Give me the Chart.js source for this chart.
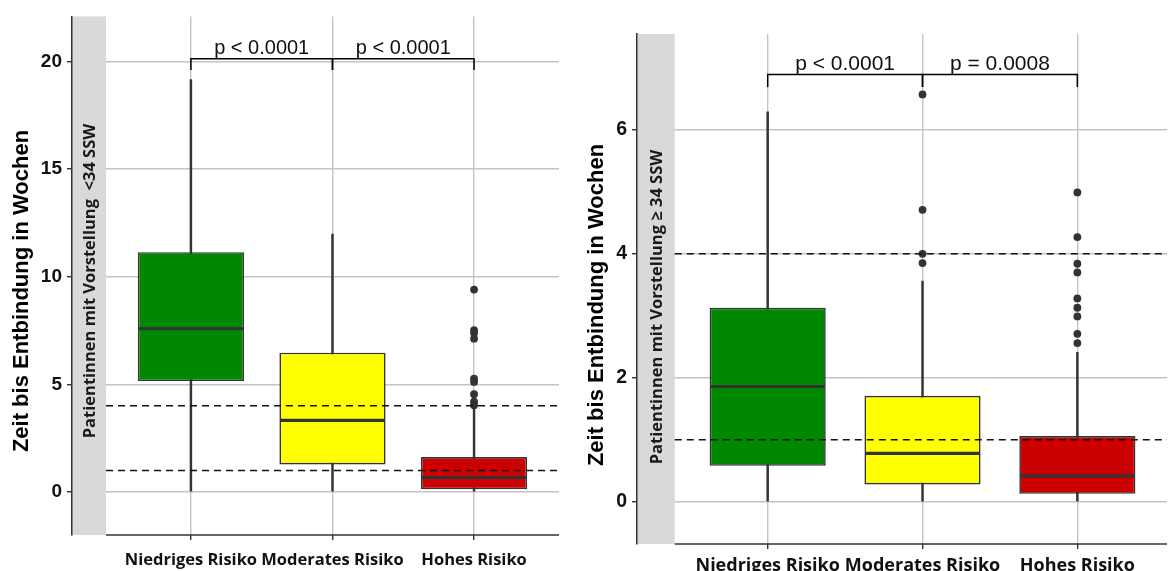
<!DOCTYPE html>
<html>
<head>
<meta charset="utf-8">
<script src="https://cdn.jsdelivr.net/npm/chart.js@4.4.0/dist/chart.umd.min.js"></script>
<style>
  html, body { margin: 0; padding: 0; background: #fff; }
  #wrap { position: relative; width: 1171px; height: 571px; overflow: hidden; }
  .panel { position: absolute; top: 0; }
</style>
</head>
<body>
<div id="wrap">
  <div class="panel" style="left:0px"><canvas id="chartA" width="590" height="571"></canvas></div>
  <div class="panel" style="left:583px"><canvas id="chartB" width="588" height="571"></canvas></div>
</div>
<script>
var categories = ["Niedriges Risiko", "Moderates Risiko", "Hohes Risiko"];
var boxColors = ["#008800", "#ffff00", "#cc0000"];

// Patientinnen mit Vorstellung <34 SSW
var lowA = [0, 0, 0];
var q1A = [5.15, 1.28, 0.12];
var medianA = [7.58, 3.32, 0.67];
var q3A = [11.14, 6.47, 1.62];
var highA = [19.15, 11.98, 3.98];
var outliersA = [[], [], [4.03, 4.19, 4.54, 5.11, 5.26, 7.12, 7.38, 7.52, 9.40]];
var yTicksA = [0, 5, 10, 15, 20];
var refLinesA = [1, 4];
var pValuesA = ["p < 0.0001", "p < 0.0001"];
var bracketA = [20.12, 19.6];

// Patientinnen mit Vorstellung >= 34 SSW
var lowB = [0, 0, 0];
var q1B = [0.58, 0.28, 0.13];
var medianB = [1.86, 0.78, 0.42];
var q3B = [3.13, 1.71, 1.06];
var highB = [6.29, 3.56, 2.41];
var outliersB = [[], [3.85, 4.0, 4.71, 6.57], [2.56, 2.71, 2.99, 3.13, 3.28, 3.70, 3.84, 4.27, 4.99]];
var yTicksB = [0, 2, 4, 6];
var refLinesB = [1, 4];
var pValuesB = ["p < 0.0001", "p = 0.0008"];
var bracketB = [6.89, 6.69];

var sansBold = "'Liberation Sans', Arial, sans-serif";
var labelFont = "'Open Sans', 'Noto Sans', sans-serif";

function buildPanel(canvasId, p) {
  var whiskers = categories.map(function (c, i) { return {x: i + 1, y: [p.low[i], p.high[i]]}; });
  var boxes = categories.map(function (c, i) { return {x: i + 1, y: [p.q1[i], p.q3[i]]}; });
  var points = [];
  p.outliers.forEach(function (list, i) {
    list.forEach(function (v) { points.push({x: i + 1, y: v}); });
  });

  var extras = {
    id: 'boxExtras',
    beforeDatasetsDraw: function (chart) {
      var ctx = chart.ctx, a = chart.chartArea, xs = chart.scales.x;
      var panelLeft = xs.getPixelForValue(p.panelStart);
      ctx.save();
      ctx.fillStyle = '#d9d9d9';
      ctx.fillRect(a.left + 1, a.top, panelLeft - a.left - 1, a.bottom - a.top);
      ctx.strokeStyle = '#333';
      ctx.lineWidth = 1.6;
      ctx.beginPath();
      ctx.moveTo(panelLeft, a.bottom);
      ctx.lineTo(a.right, a.bottom);
      ctx.stroke();
      ctx.translate((a.left + panelLeft) / 2 + 1, p.stripY);
      ctx.rotate(-Math.PI / 2);
      ctx.fillStyle = '#1a1a1a';
      ctx.font = "bold " + p.stripSize + "px " + labelFont;
      ctx.textAlign = 'center';
      ctx.textBaseline = 'middle';
      ctx.fillText(p.stripText, 0, 0);
      ctx.restore();
    },
    afterDatasetsDraw: function (chart) {
      var ctx = chart.ctx, a = chart.chartArea, xs = chart.scales.x, ys = chart.scales.y;
      var panelLeft = xs.getPixelForValue(p.panelStart);
      ctx.save();
      // medians
      ctx.strokeStyle = '#333';
      ctx.lineWidth = 3.2;
      chart.getDatasetMeta(1).data.forEach(function (bar, i) {
        var y = ys.getPixelForValue(p.median[i]);
        ctx.beginPath();
        ctx.moveTo(bar.x - bar.width / 2 + 1, y);
        ctx.lineTo(bar.x + bar.width / 2 - 1, y);
        ctx.stroke();
      });
      // dashed reference lines
      ctx.strokeStyle = '#111';
      ctx.lineWidth = 1.5;
      ctx.setLineDash([7, 5]);
      p.refLines.forEach(function (v) {
        var y = ys.getPixelForValue(v);
        ctx.beginPath();
        ctx.moveTo(panelLeft, y);
        ctx.lineTo(a.right, y);
        ctx.stroke();
      });
      ctx.setLineDash([]);
      // brackets with p-values
      var yb = ys.getPixelForValue(p.bracket[0]);
      var yt = ys.getPixelForValue(p.bracket[1]);
      ctx.strokeStyle = '#000';
      ctx.lineWidth = 1.5;
      ctx.fillStyle = '#111';
      ctx.font = p.pSize + "px " + sansBold;
      ctx.textAlign = 'center';
      ctx.textBaseline = 'alphabetic';
      p.pValues.forEach(function (txt, i) {
        var x1 = xs.getPixelForValue(i + 1), x2 = xs.getPixelForValue(i + 2);
        ctx.beginPath();
        ctx.moveTo(x1, yt);
        ctx.lineTo(x1, yb);
        ctx.lineTo(x2, yb);
        ctx.lineTo(x2, yt);
        ctx.stroke();
        ctx.fillText(txt, (x1 + x2) / 2, yb - 5);
      });
      ctx.restore();
    },
    afterDraw: function (chart) {
      var ctx = chart.ctx;
      ctx.save();
      ctx.translate(p.titleX, p.titleY);
      ctx.rotate(-Math.PI / 2);
      ctx.fillStyle = '#000';
      ctx.font = "bold " + p.titleSize + "px " + sansBold;
      ctx.textAlign = 'center';
      ctx.textBaseline = 'middle';
      ctx.fillText("Zeit bis Entbindung in Wochen", 0, 0);
      ctx.restore();
    }
  };

  return new Chart(canvasId, {
    type: 'bar',
    data: {
      datasets: [{
        data: whiskers,
        backgroundColor: '#333',
        borderWidth: 0,
        barThickness: 1.8,
        grouped: false,
        order: 3
      }, {
        data: boxes,
        backgroundColor: boxColors,
        borderColor: '#333',
        borderWidth: 1.6,
        borderSkipped: false,
        barPercentage: 0.75,
        categoryPercentage: 1,
        grouped: false,
        order: 2
      }, {
        type: 'scatter',
        data: points,
        pointRadius: 3.9,
        pointBackgroundColor: '#333',
        pointBorderWidth: 0,
        order: 1
      }]
    },
    options: {
      responsive: false,
      animation: false,
      layout: {padding: {top: p.padTop, right: p.padRight, bottom: 0, left: 0}},
      plugins: {legend: {display: false}, tooltip: {enabled: false}},
      scales: {
        x: {
          type: 'linear',
          offset: false,
          min: p.xMin,
          max: p.xMax,
          afterBuildTicks: function (scale) {
            scale.ticks = categories.map(function (c, i) { return {value: i + 1}; });
          },
          afterFit: function (scale) { scale.height = p.xHeight; },
          grid: {offset: false, color: '#c4c4c4', lineWidth: 1.4, tickColor: '#333', tickLength: 5},
          border: {display: false},
          ticks: {
            autoSkip: false,
            maxRotation: 0,
            padding: p.xPad,
            color: '#111',
            font: {family: labelFont, size: p.xSize, weight: 'bold'},
            callback: function (v) { return categories[v - 1]; }
          }
        },
        y: {
          min: p.yMin,
          max: p.yMax,
          afterBuildTicks: function (scale) {
            scale.ticks = p.yTicks.map(function (v) { return {value: v}; });
          },
          afterFit: function (scale) { scale.width = p.yWidth; },
          grid: {color: '#c4c4c4', lineWidth: 1.4, tickColor: '#333', tickLength: 5},
          border: {display: true, color: '#333', width: 1.6},
          ticks: {
            padding: 5,
            color: '#111',
            font: {family: sansBold, size: p.ySize, weight: 'bold'}
          }
        }
      }
    },
    plugins: [extras]
  });
}

buildPanel('chartA', {
  low: lowA, q1: q1A, median: medianA, q3: q3A, high: highA, outliers: outliersA,
  yTicks: yTicksA, refLines: refLinesA, pValues: pValuesA, bracket: bracketA,
  stripText: "Patientinnen mit Vorstellung  <34 SSW",
  xMin: 0.16, xMax: 3.6, yMin: -2.0, yMax: 22.09, panelStart: 0.4,
  yWidth: 72, xHeight: 36, padTop: 11, padRight: 31, xPad: 10,
  xSize: 16.5, ySize: 19, pSize: 20, stripSize: 16.5, titleSize: 22,
  titleX: 22, titleY: 291, stripY: 281
});

buildPanel('chartB', {
  low: lowB, q1: q1B, median: medianB, q3: q3B, high: highB, outliers: outliersB,
  yTicks: yTicksB, refLines: refLinesB, pValues: pValuesB, bracket: bracketB,
  stripText: "Patientinnen mit Vorstellung \u2265 34 SSW",
  xMin: 0.156, xMax: 3.579, yMin: -0.68, yMax: 7.545, panelStart: 0.4,
  yWidth: 54, xHeight: 27, padTop: 34, padRight: 0, xPad: 6,
  xSize: 18, ySize: 19.5, pSize: 21, stripSize: 16.5, titleSize: 22,
  titleX: 14, titleY: 305, stripY: 307
});
</script>
</body>
</html>
